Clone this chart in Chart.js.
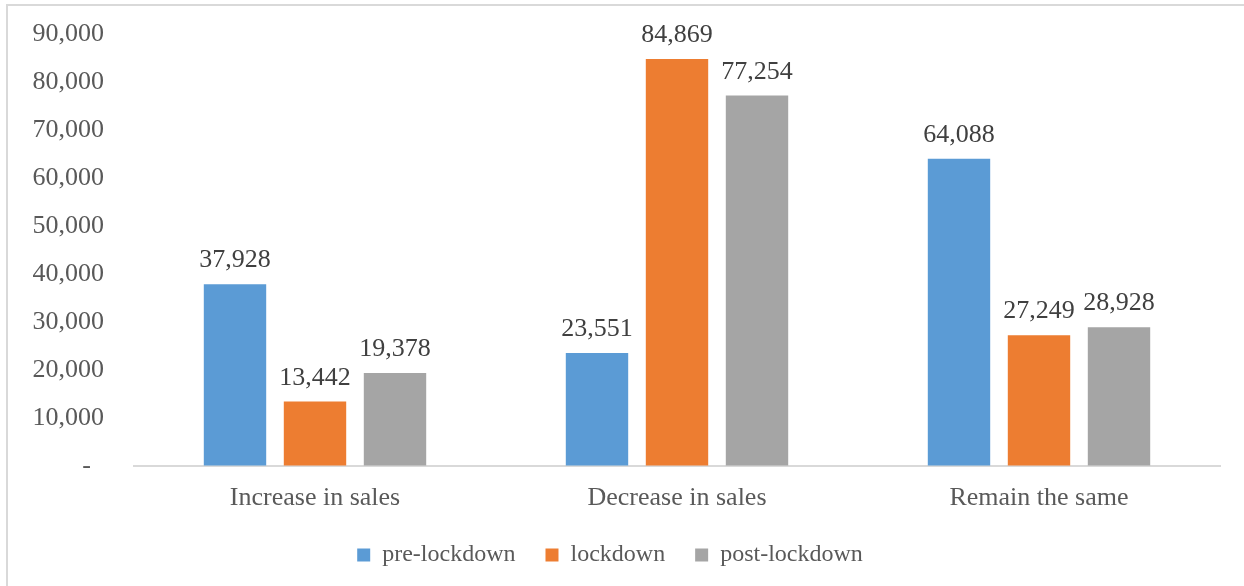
<!DOCTYPE html>
<html>
<head>
<meta charset="utf-8">
<script src="https://cdn.jsdelivr.net/npm/chart.js@4/dist/chart.umd.min.js"></script>
<style>
    html, body { margin: 0; padding: 0; background: #fff; }
    #wrap { position: relative; width: 1244px; height: 586px; overflow: hidden; }
    #frame { position: absolute; left: 6px; top: 4px; width: 1300px; height: 700px;
             border-left: 2px solid #d9d9d9; border-top: 2px solid #d9d9d9; }
    canvas { position: absolute; left: 0; top: 0; }
</style>
</head>
<body>
<div id="wrap">
    <div id="frame"></div>
    <canvas id="chart" width="1244" height="586"></canvas>
</div>
<script>
    "use strict";

    const categories = ['Increase in sales', 'Decrease in sales', 'Remain the same'];
    const seriesNames = ['pre-lockdown', 'lockdown', 'post-lockdown'];
    const preLockdown = [37928, 23551, 64088];
    const lockdown = [13442, 84869, 27249];
    const postLockdown = [19378, 77254, 28928];
    const yTicks = [0, 10000, 20000, 30000, 40000, 50000, 60000, 70000, 80000, 90000];

    const fontFamily = '"Liberation Serif", "Times New Roman", serif';
    const colors = ['#5b9bd5', '#ed7d31', '#a5a5a5'];

    // value labels above each bar
    const barLabels = {
        id: 'barLabels',
        afterDatasetsDraw: function (chart) {
            const ctx = chart.ctx;
            ctx.save();
            ctx.font = '26px ' + fontFamily;
            ctx.fillStyle = '#404040';
            ctx.textAlign = 'center';
            ctx.textBaseline = 'alphabetic';
            chart.data.datasets.forEach((ds, i) => {
                chart.getDatasetMeta(i).data.forEach((bar, j) => {
                    ctx.fillText(ds.data[j].toLocaleString('en-US'), bar.x, bar.y - 17);
                });
            });
            ctx.restore();
        }
    };

    new Chart(document.getElementById('chart'), {
        type: 'bar',
        data: {
            labels: categories,
            datasets: [
                {label: seriesNames[0], data: preLockdown, backgroundColor: colors[0]},
                {label: seriesNames[1], data: lockdown, backgroundColor: colors[1]},
                {label: seriesNames[2], data: postLockdown, backgroundColor: colors[2]}
            ]
        },
        options: {
            responsive: false,
            animation: false,
            categoryPercentage: 0.663,
            barPercentage: 0.78,
            layout: {
                padding: {left: 0, right: 24, top: 34.5, bottom: 9}
            },
            scales: {
                x: {
                    afterFit: (scale) => { scale.height = 47; },
                    grid: {display: true, drawOnChartArea: false, drawTicks: false},
                    border: {display: true, color: '#d9d9d9', width: 2},
                    ticks: {
                        color: '#595959',
                        padding: 17,
                        font: {family: fontFamily, size: 26}
                    }
                },
                y: {
                    min: 0,
                    max: 90000,
                    afterFit: (scale) => { scale.width = 134; },
                    afterBuildTicks: (scale) => {
                        scale.ticks = yTicks.map(v => ({value: v}));
                    },
                    // invisible tick marks give the gap between labels and plot
                    grid: {display: true, drawOnChartArea: false, drawTicks: true,
                           tickLength: 30, tickColor: 'rgba(0,0,0,0)'},
                    border: {display: false},
                    ticks: {
                        color: '#595959',
                        padding: 0,
                        font: {family: fontFamily, size: 26},
                        callback: (v) => v === 0 ? '-  ' : v.toLocaleString('en-US')
                    }
                }
            },
            plugins: {
                legend: {
                    position: 'bottom',
                    labels: {
                        color: '#595959',
                        boxWidth: 13,
                        boxHeight: 13,
                        padding: 30,
                        font: {family: fontFamily, size: 24}
                    }
                },
                tooltip: {enabled: false}
            }
        },
        plugins: [barLabels]
    });
</script>
</body>
</html>
